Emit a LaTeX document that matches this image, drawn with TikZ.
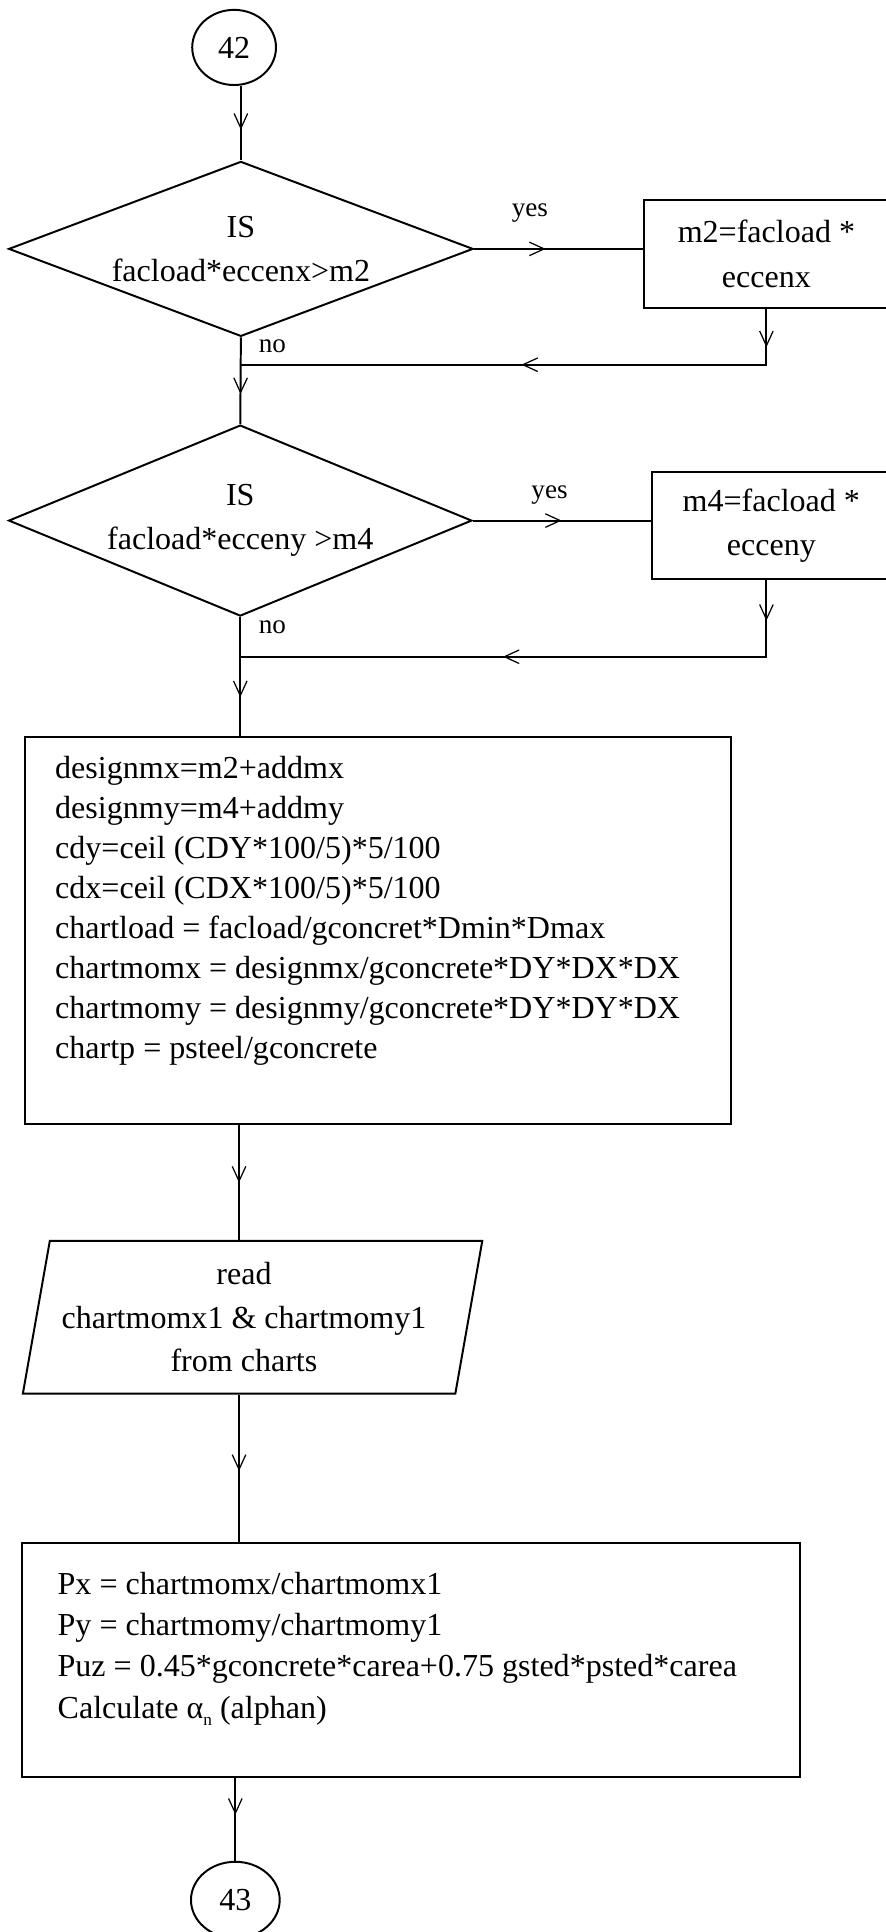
\documentclass[tikz,border=0pt]{standalone}
\usepackage{fontspec}
\setmainfont{Liberation Serif}
\usetikzlibrary{shapes.geometric,arrows.meta,decorations.markings}

\begin{document}
\begin{tikzpicture}[x=1pt,y=-1pt,line width=1.6pt,
  txt/.style={font=\fontsize{26}{32.5}\selectfont, inner sep=0pt},
  small/.style={font=\fontsize{22}{24}\selectfont, inner sep=0pt},
  box/.style={draw, rectangle, inner sep=0pt},
  decision/.style={draw, diamond, inner sep=0pt, align=center,
    font=\fontsize{26}{36}\selectfont},
  connector/.style={draw, ellipse, inner sep=0pt,
    font=\fontsize{26}{30}\selectfont},
  vtip/.tip={Straight Barb[length=12pt,width=11pt,line width=1pt]},
  arrowat/.style={postaction={decorate,decoration={markings,
    mark=at position #1 with {\arrow{vtip}}}}},
  arrowsat/.style 2 args={postaction={decorate,decoration={markings,
    mark=at position #1 with {\arrow{vtip}},
    mark=at position #2 with {\arrow{vtip}}}}},
]
\useasboundingbox (0,0) rectangle (719,1568);
\clip (0,0) rectangle (719,1568);

% off-page connectors
\node[connector, minimum width=68, minimum height=61] (c42) at (190,38.5) {42};
\node[connector, minimum width=72, minimum height=62] (c43) at (191,1542) {43};

% first test
\node[decision, aspect=2.65, minimum width=377, minimum height=142] (d1) at (195.5,202)
  {IS\\facload*eccenx>m2};
\node[box, minimum width=198, minimum height=88, align=center,
  font=\fontsize{26}{36}\selectfont] (m2) at (622,206) {m2=facload *\\eccenx};

% second test
\node[decision, aspect=2.43, minimum width=376, minimum height=155] (d2) at (195,422.5)
  {IS\\facload*ecceny >m4};
\node[box, minimum width=194, minimum height=87, align=center,
  font=\fontsize{26}{36}\selectfont] (m4) at (626,426.5) {m4=facload *\\ecceny};

% design values
\node[box, minimum width=573, minimum height=314] (calc1) at (306.5,755) {};
\node[txt, align=left, anchor=north west] (calc1txt) at (44,613)
  {designmx=m2+addmx\\
   designmy=m4+addmy\\
   cdy=ceil (CDY*100/5)*5/100\\
   cdx=ceil (CDX*100/5)*5/100\\
   chartload = facload/gconcret*Dmin*Dmax\\
   chartmomx = designmx/gconcrete*DY*DX*DX\\
   chartmomy = designmy/gconcrete*DY*DY*DX\\
   chartp = psteel/gconcrete};

% chart input
\node[draw, trapezium, trapezium left angle=77, trapezium right angle=103,
  trapezium stretches=true, minimum width=374, minimum height=124,
  inner sep=0pt, align=center, font=\fontsize{26}{35.5}\selectfont] (read) at (205,1069)
  {read\rule{14pt}{0pt}\\chartmomx1 \& chartmomy1\rule{14pt}{0pt}\\from charts\rule{14pt}{0pt}};

% final values
\node[box, minimum width=631, minimum height=190] (calc2) at (333.5,1347) {};
\node[txt, align=left, anchor=north west, font=\fontsize{26}{33.5}\selectfont] (calc2txt) at (46,1275)
  {Px = chartmomx/chartmomx1\\
   Py = chartmomy/chartmomy1\\
   Puz = 0.45*gconcrete*carea+0.75 gsted*psted*carea\\
   Calculate α\raisebox{-6pt}{\fontsize{14}{14}\selectfont n} (alphan)};

% branch labels
\node[small] (yes1) at (430,173) {yes};
\node[small] (yes2) at (446,402) {yes};
\node[small] (no1) at (221,281) {no};
\node[small] (no2) at (221,509) {no};

% junctions on the main line
\coordinate (j1) at (195,296);
\coordinate (j2) at (195,533);
\coordinate (lax) at (194,0);

% connectors
\draw[arrowat=35.5pt] (c42.south -| d1.north) -- (d1.north);
\draw[arrowat=58pt] (d1.east) -- (d1.east -| m2.west);
\draw[arrowsat={31pt}{244pt}] (m2.south) |- (j1);
\draw[arrowat=46pt] (d1.south) -- (d2.north);
\draw[arrowat=72pt] (d2.east) -- (d2.east -| m4.west);
\draw[arrowsat={33pt}{276pt}] (m4.south -| m2.south) |- (j2);
\draw[arrowat=65pt] (d2.south) -- (d2.south |- calc1.north);
\draw[arrowat=47pt] (calc1.south -| lax) -- (read.north -| lax);
\draw[arrowat=62pt] (read.south -| lax) -- (calc2.north -| lax);
\draw[arrowat=30pt] (calc2.south -| c43.north) -- (c43.north);
\end{tikzpicture}
\end{document}
